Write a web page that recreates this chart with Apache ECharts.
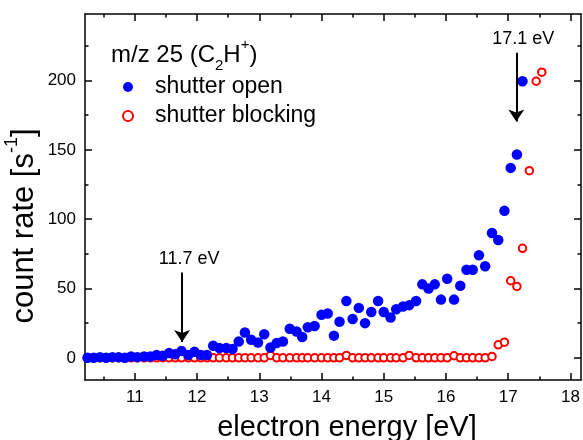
<!DOCTYPE html>
<html>
<head>
<meta charset="utf-8">
<script src="https://cdn.jsdelivr.net/npm/echarts@6/dist/echarts.min.js"></script>
<style>
html, body { margin: 0; padding: 0; background: #fff; }
#container { width: 583px; height: 440px; }
</style>
</head>
<body>
<div id="container"></div>
<script>
// data
var energy = [
   10.24, 10.34, 10.44, 10.54, 10.64, 10.74, 10.84, 10.94, 11.04, 11.15,
   11.25, 11.35, 11.45, 11.55, 11.65, 11.75, 11.86, 11.96, 12.06, 12.16,
   12.26, 12.36, 12.47, 12.57, 12.67, 12.77, 12.87, 12.98, 13.08, 13.18,
   13.28, 13.38, 13.49, 13.6, 13.69, 13.78, 13.89, 14.0, 14.1, 14.2,
   14.29, 14.4, 14.5, 14.6, 14.7, 14.8, 14.91, 15.0, 15.11, 15.2,
   15.31, 15.41, 15.52, 15.62, 15.72, 15.82, 15.92, 16.02, 16.13, 16.23,
   16.33, 16.43, 16.53, 16.63, 16.74, 16.84, 16.94, 17.04, 17.14, 17.23,
   17.34, 17.45, 17.54
];
var openRate = [
   0, 0, 0.5, 0, 0.5, 0.5, 0, 1, 0.5, 1,
   1, 2, 1.5, 3.4, 2.5, 5, 2, 4.3, 2, 2,
   8.7, 7, 7, 6.3, 11.8, 18.3, 13, 11, 17, 7.5,
   10.6, 11.8, 21, 19, 15, 22, 23, 31, 32, 16,
   26, 41, 28, 36, 25, 33, 41, 33, 29, 35,
   37, 38, 41, 53, 50, 53, 42, 57, 42, 52,
   63.5, 63.5, 74, 66, 90, 85, 106, 137, 146.6, 199.5
];
var blockRate = [
   0, 0, 0, 0, 0, 0, 0, 0, 0, 0,
   0, 0, 0, 0, 0, 0, 0, 0, 0, 0,
   0, 0, 0, 0, 0, 0, 0, 0, 0, 1.7,
   0, 0, 0, 0, 0, 0, 0, 0, 0, 0,
   0, 1.7, 0, 0, 0, 0, 0, 0, 0, 0,
   0, 1.7, 0, 0, 0, 0, 0, 0, 1.5, 0,
   0, 0, 0, 0, 1, 9.4, 11.3, 55.6, 51.5, 79,
   135, 199.5, 206
];
var xMajor = [11, 12, 13, 14, 15, 16, 17, 18];
var xMinor = [10.5, 11.5, 12.5, 13.5, 14.5, 15.5, 16.5, 17.5];
var yMajor = [0, 50, 100, 150, 200];
var yMinor = [25, 75, 125, 175, 225];
// arrows: [energy, value at top, value at tip, label]
var arrows = [
   [11.76, 61.5, 11.5, '11.7 eV'],
   [17.13, 220, 170.5, '17.1 eV']
];

var FONT = '"Liberation Sans", Arial, sans-serif';
var XMIN = 10.2, XMAX = 18.17, YMIN = -16, YMAX = 248;

var openData = openRate.map(function (v, i) { return [energy[i], v]; });
var blockData = blockRate.map(function (v, i) { return [energy[i], v]; });

function xAx(pos, ticks, len, main) {
   return {
      type: 'value', min: XMIN, max: XMAX, position: pos,
      axisLine: { show: main, onZero: false, lineStyle: { color: '#000', width: 1.5 } },
      axisTick: { inside: true, length: len, customValues: ticks, lineStyle: { color: '#000', width: 1.5 } },
      axisLabel: { show: main && pos === 'bottom', customValues: xMajor, color: '#000', fontSize: 17, fontFamily: FONT, margin: 9 },
      splitLine: { show: false }
   };
}
function yAx(pos, ticks, len, main) {
   return {
      type: 'value', min: YMIN, max: YMAX, position: pos,
      axisLine: { show: main, onZero: false, lineStyle: { color: '#000', width: 1.5 } },
      axisTick: { inside: true, length: len, customValues: ticks, lineStyle: { color: '#000', width: 1.5 } },
      axisLabel: { show: main && pos === 'left', customValues: yMajor, color: '#000', fontSize: 17, fontFamily: FONT, margin: 9 },
      splitLine: { show: false }
   };
}

var dom = document.getElementById('container');
var myChart = echarts.init(dom, null, { renderer: 'canvas' });

var option = {
   animation: false,
   grid: { left: 85, right: 2, top: 14, bottom: 60 },
   xAxis: [
      xAx('bottom', xMajor, 7, true),
      xAx('bottom', xMinor, 3.5, false),
      xAx('top', xMajor, 7, true),
      xAx('top', xMinor, 3.5, false)
   ],
   yAxis: [
      yAx('left', yMajor, 7, true),
      yAx('left', yMinor, 3.5, false),
      yAx('right', yMajor, 7, true),
      yAx('right', yMinor, 3.5, false)
   ],
   legend: {
      orient: 'vertical', left: 117, top: 70,
      itemWidth: 44, itemHeight: 10, itemGap: 5,
      selectedMode: false,
      data: [
         { name: 'shutter open', icon: 'circle' },
         { name: 'shutter blocking', icon: 'emptyCircle' }
      ],
      textStyle: { fontSize: 23, lineHeight: 24, color: '#000', fontFamily: FONT }
   },
   graphic: [
      {
         type: 'text', left: 111, top: 37,
         style: {
            text: '{a|m/z 25 (C}{sub|2}{a|H}{sup|+}{a|)}',
            rich: {
               a: { fontSize: 24, lineHeight: 36, fontFamily: FONT, fill: '#000' },
               sub: { fontSize: 15, lineHeight: 14, verticalAlign: 'bottom', fontFamily: FONT, fill: '#000' },
               sup: { fontSize: 15, lineHeight: 24, verticalAlign: 'top', fontFamily: FONT, fill: '#000' }
            }
         }
      },
      {
         type: 'text', x: 24, y: 226, rotation: Math.PI / 2,
         style: {
            text: '{a|count rate [s}{sup|-1}{a|]}',
            align: 'center', verticalAlign: 'middle',
            rich: {
               a: { fontSize: 31, lineHeight: 42, fontFamily: FONT, fill: '#000' },
               sup: { fontSize: 18, lineHeight: 28, verticalAlign: 'top', fontFamily: FONT, fill: '#000' }
            }
         }
      },
      {
         type: 'text', x: 347, y: 428,
         style: {
            text: 'electron energy [eV]', align: 'center', verticalAlign: 'middle',
            fontSize: 29, fontFamily: FONT, fill: '#000'
         }
      }
   ],
   series: [
      {
         name: 'shutter open',
         type: 'scatter',
         z: 3,
         symbol: 'circle',
         symbolSize: 10.5,
         itemStyle: { color: '#0000ff', opacity: 1 },
         data: openData,
         markLine: {
            silent: true,
            symbol: ['none', 'arrow'],
            symbolSize: 12,
            lineStyle: { color: '#000', width: 2, type: 'solid' },
            label: {
               show: true, position: 'start', formatter: '{b}',
               color: '#000', fontSize: 18, fontFamily: FONT, padding: [0, 0, 0, 14]
            },
            data: arrows.map(function (a) {
               return [{ name: a[3], coord: [a[0], a[1]] }, { coord: [a[0], a[2]] }];
            })
         }
      },
      {
         name: 'shutter blocking',
         type: 'scatter',
         z: 2,
         symbol: 'emptyCircle',
         symbolSize: 7.5,
         itemStyle: { color: '#ff0000', borderWidth: 1, opacity: 1 },
         data: blockData
      }
   ]
};

if (option && typeof option === 'object') {
   myChart.setOption(option);
}

window.addEventListener('resize', myChart.resize);
</script>
</body>
</html>
